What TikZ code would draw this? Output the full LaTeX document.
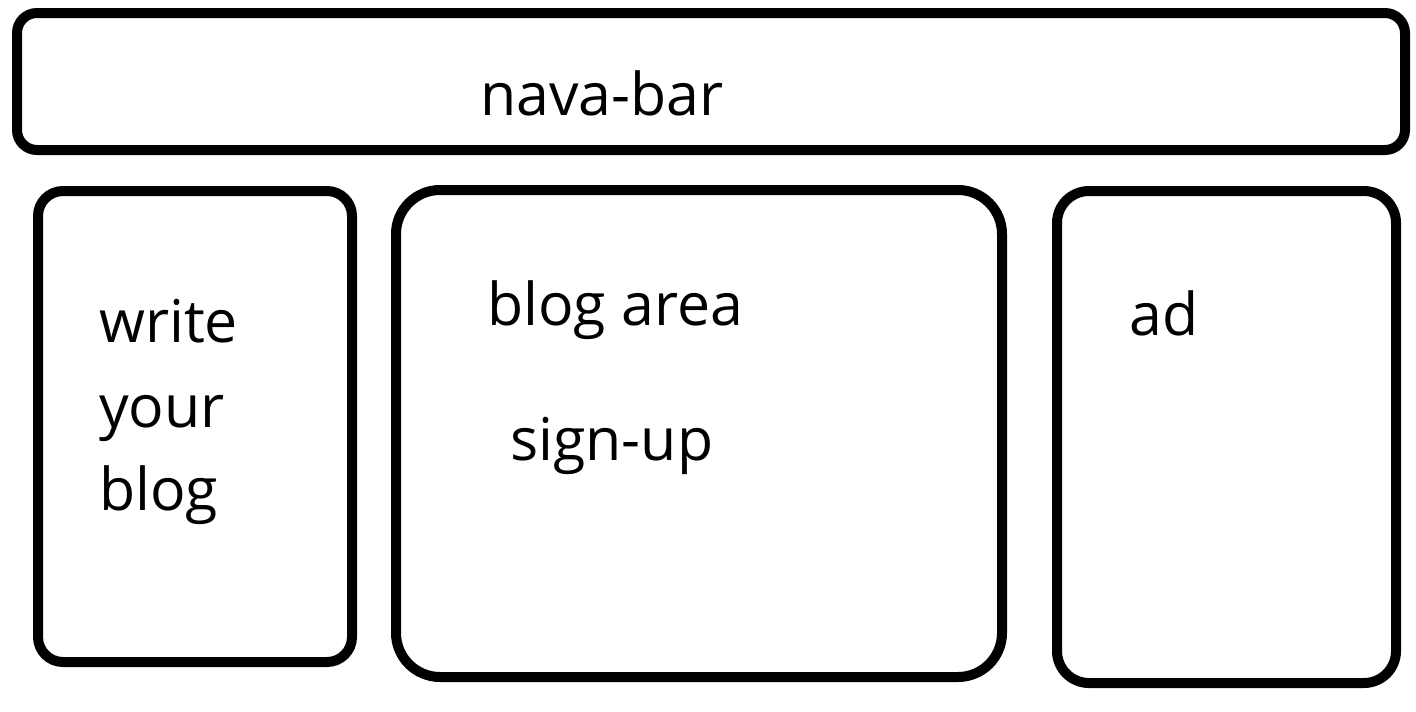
\documentclass[tikz,border=0pt]{standalone}
\usepackage{fontspec}
\setmainfont{Open Sans}
\begin{document}
\begin{tikzpicture}[x=1pt,y=-1pt,
  panel/.style={draw=black,line width=10pt},
  lbl/.style={inner sep=0pt,anchor=base west,font=\fontsize{59}{82}\selectfont}]
\useasboundingbox[fill=white] (0,0) rectangle (1416,712);
\draw[panel,rounded corners=20pt] (17,13) rectangle (1405,150);
\draw[panel,rounded corners=25pt] (38,191) rectangle (352,662);
\draw[panel,rounded corners=44pt] (396,190) rectangle (1002,677);
\draw[panel,rounded corners=32pt] (1057,191) rectangle (1396,683);
\node[lbl] (nav) at (480,115) {nava-bar};
\node[lbl] (w1) at (99,342) {write};
\node[lbl] (w2) at (99,427) {your};
\node[lbl] (w3) at (99,510) {blog};
\node[lbl] (blog) at (487,325) {blog area};
\node[lbl] (sign) at (510,460) {sign-up};
\node[lbl] (ad) at (1129,335) {ad};
\end{tikzpicture}
\end{document}
